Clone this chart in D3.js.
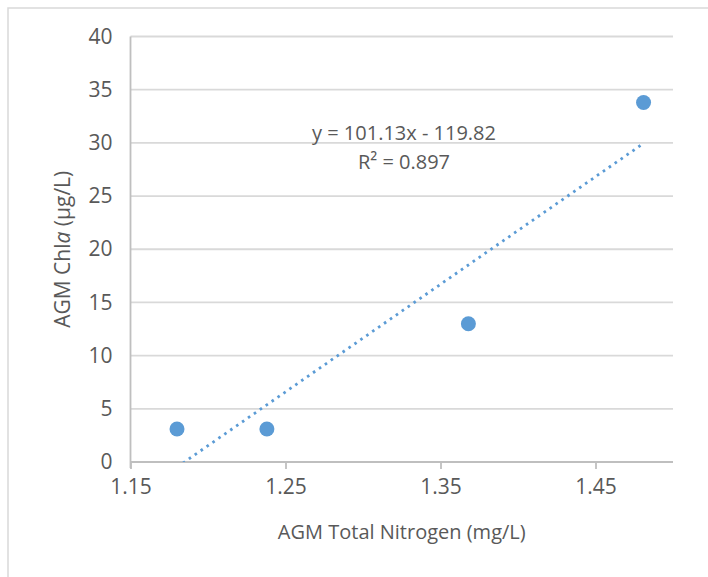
<!DOCTYPE html>
<html>
<head>
<meta charset="utf-8">
<script src="https://cdn.jsdelivr.net/npm/d3@7"></script>
<style>
  html, body { margin: 0; padding: 0; background: #fff; }
  svg text { font-family: "Open Sans", "Noto Sans", sans-serif; fill: #595959; }
</style>
</head>
<body>
<svg id="chart" width="708" height="577"></svg>
<script>
// Data
const nitrogen = [1.18, 1.238, 1.368, 1.481];
const chla = [3.1, 3.1, 13.0, 33.8];
const xTicks = [1.15, 1.25, 1.35, 1.45];
const yTicks = [0, 5, 10, 15, 20, 25, 30, 35, 40];
const trendSlope = 101.13;
const trendIntercept = -119.82;
const trendLabel = "y = 101.13x - 119.82";
const r2Label = "R² = 0.897";
const xTitle = "AGM Total Nitrogen (mg/L)";

const svg = d3.select("#chart");
const W = 708, H = 577;
const plot = { left: 130.5, right: 673, top: 36.5, bottom: 462 };

// chart border
svg.append("rect").attr("x", 8).attr("y", 8).attr("width", W + 20).attr("height", H + 20)
  .attr("fill", "#fff").attr("stroke", "#d9d9d9").attr("stroke-width", 1.5);

const x = d3.scaleLinear().domain([1.15, 1.5]).range([plot.left, plot.right]);
const y = d3.scaleLinear().domain([0, 40]).range([plot.bottom, plot.top]);

// gridlines
svg.append("g").selectAll("line").data(yTicks.filter(d => d > 0)).join("line")
  .attr("x1", plot.left).attr("x2", plot.right)
  .attr("y1", d => y(d)).attr("y2", d => y(d))
  .attr("stroke", "#d9d9d9").attr("stroke-width", 1.8);

// y axis
const yAxis = svg.append("g").attr("transform", `translate(${plot.left},0)`)
  .call(d3.axisLeft(y).tickValues(yTicks).tickSize(0).tickPadding(18).tickFormat(d3.format("d")));
yAxis.select(".domain").attr("stroke", "#bfbfbf").attr("stroke-width", 1.8)
  .attr("d", `M0,${plot.top}V${plot.bottom + 6}`);
yAxis.selectAll("text").style("font-size", "21px").attr("fill", "#595959");

// x axis
const xAxis = svg.append("g").attr("transform", `translate(0,${plot.bottom})`)
  .call(d3.axisBottom(x).tickValues(xTicks).tickSize(7).tickPadding(10).tickFormat(d3.format(".2f")));
xAxis.select(".domain").attr("stroke", "#bfbfbf").attr("stroke-width", 1.8)
  .attr("d", `M${plot.left},0H${plot.right}`);
xAxis.selectAll(".tick line").attr("stroke", "#bfbfbf").attr("stroke-width", 1.8);
xAxis.selectAll("text").style("font-size", "21px").attr("fill", "#595959");

// clip for trendline
svg.append("clipPath").attr("id", "plotclip").append("rect")
  .attr("x", plot.left).attr("y", plot.top)
  .attr("width", plot.right - plot.left).attr("height", plot.bottom - plot.top);

const x0 = d3.min(nitrogen), x1 = d3.max(nitrogen);
const trend = [x0, x1].map(v => [v, trendSlope * v + trendIntercept]);
svg.append("path")
  .attr("clip-path", "url(#plotclip)")
  .attr("d", d3.line().x(d => x(d[0])).y(d => y(d[1]))(trend))
  .attr("fill", "none").attr("stroke", "#5b9bd5").attr("stroke-width", 2.8)
  .attr("stroke-dasharray", "2.6 4.6");

// points
svg.append("g").selectAll("circle").data(nitrogen.map((v, i) => [v, chla[i]])).join("circle")
  .attr("cx", d => x(d[0])).attr("cy", d => y(d[1])).attr("r", 7.5)
  .attr("fill", "#5b9bd5");

// equation labels
svg.append("text").attr("x", 404).attr("y", 140).attr("text-anchor", "middle")
  .style("font-size", "20px").text(trendLabel);
svg.append("text").attr("x", 404).attr("y", 169).attr("text-anchor", "middle")
  .style("font-size", "20px").text(r2Label);

// x title
svg.append("text").attr("x", (plot.left + plot.right) / 2).attr("y", 539)
  .attr("text-anchor", "middle").style("font-size", "20px").text(xTitle);

// y title with italic "a"
const yt = svg.append("text").attr("transform", `translate(70,${(plot.top + plot.bottom) / 2}) rotate(-90)`)
  .attr("text-anchor", "middle").style("font-size", "21px");
yt.append("tspan").text("AGM Chl");
yt.append("tspan").style("font-style", "italic").text("a");
yt.append("tspan").text(" (µg/L)");
</script>
</body>
</html>
